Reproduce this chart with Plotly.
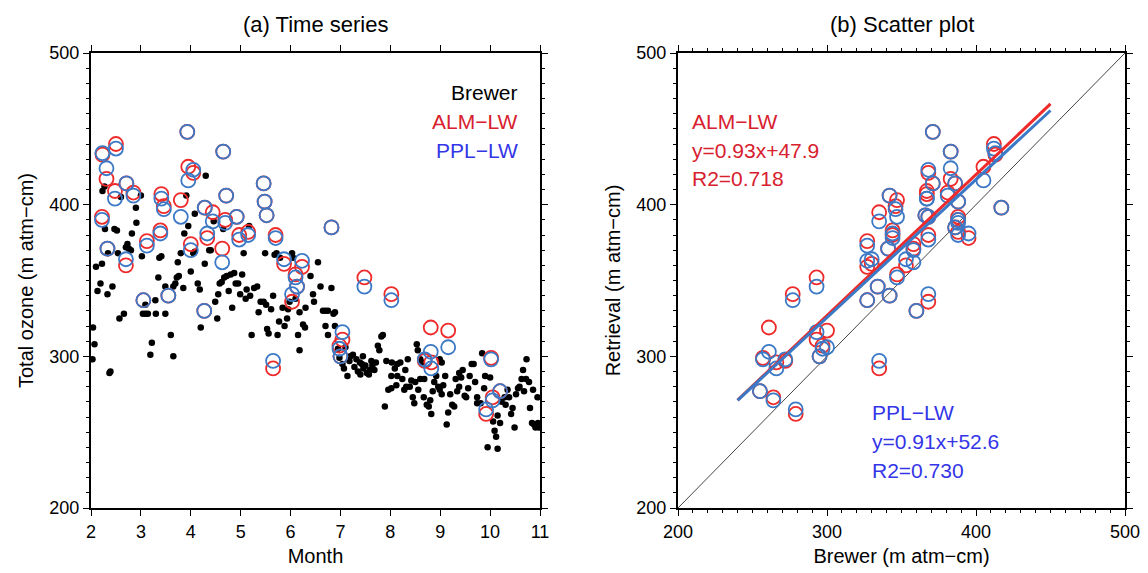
import plotly.graph_objects as go

# ---------------- data ----------------
# Brewer daily total ozone (left panel, black dots)
brewer_month = [
    2.04, 2.07, 2.03, 2.23, 2.27, 2.22, 2.19, 2.13, 2.33, 2.28, 2.34, 2.47, 2.43, 2.37, 2.39, 2.57, 2.66, 2.54, 2.60, 2.70,
    2.73, 2.76, 2.80, 2.82, 2.90, 2.91, 3.00, 3.02, 3.04, 3.09, 3.14, 3.09, 3.22, 3.19, 3.30, 3.29, 3.37, 3.41, 3.49, 3.49,
    3.60, 3.65, 3.65, 3.69, 3.72, 3.76, 3.74, 3.80, 3.85, 3.87, 3.91, 4.00, 4.05, 4.08, 4.08, 4.14, 4.18, 4.20, 4.28, 4.30,
    4.37, 4.40, 4.46, 4.49, 4.53, 4.58, 4.62, 4.67, 4.72, 4.65, 4.76, 4.83, 4.80, 4.87, 4.90, 4.95, 4.99, 5.03, 5.06, 5.12,
    5.19, 5.22, 5.17, 5.27, 5.33, 5.36, 5.40, 5.46, 5.49, 5.51, 5.53, 5.56, 5.61, 5.68, 5.72, 5.79, 5.74, 5.77, 5.84, 5.88,
    5.93, 5.95, 5.98, 6.03, 6.05, 6.15, 6.18, 6.25, 6.29, 6.18, 6.30, 6.40, 6.45, 6.47, 6.55, 6.65, 6.70, 6.75, 6.70, 6.75,
    6.82, 6.86, 6.89, 6.89, 6.95, 6.98, 7.04, 7.07, 7.14, 7.10, 7.18, 7.25, 7.32, 7.39, 7.43, 7.46, 7.53, 7.59, 7.64, 7.71,
    7.75, 7.78, 7.82, 7.85, 7.89, 7.96, 8.02, 7.92, 8.03, 8.09, 8.14, 8.20, 8.02, 8.14, 8.24, 8.28, 8.32, 8.39, 8.42, 8.35,
    8.45, 8.48, 8.56, 8.60, 8.53, 8.55, 8.60, 8.63, 8.67, 8.73, 8.77, 8.82, 8.85, 8.88, 8.96, 8.99, 9.03, 8.99, 9.03, 9.10,
    9.13, 9.20, 9.24, 9.28, 9.31, 9.38, 9.38, 9.45, 9.49, 9.52, 9.59, 9.63, 9.67, 9.74, 9.74, 9.81, 9.84, 9.88, 9.90, 9.95,
    10.06, 10.09, 10.12, 10.15, 10.15, 10.20, 10.23, 10.29, 10.31, 10.38, 10.45, 10.49, 10.56, 10.59, 10.63, 10.66, 10.72,
    10.73, 10.78, 10.80, 10.84, 10.88, 10.91, 10.95, 10.98, 10.96,
    7.20, 7.28, 7.35, 7.50, 7.57, 7.62, 7.68, 7.45, 7.40, 8.12, 8.30, 8.50, 8.68, 8.80, 8.92, 9.06, 9.16, 9.34, 9.42, 9.56,
    9.70, 10.00, 10.35, 10.42, 10.52, 10.68, 10.86, 2.10, 2.52, 3.35, 3.95, 4.55, 5.10, 5.65, 6.10, 6.60,
]
brewer_ozone = [
    319, 308, 298, 409, 412, 361, 348, 343, 341, 384, 368, 384, 346, 289, 290, 325, 328, 368, 405, 372,
    374, 371, 370, 381, 398, 388, 406, 366, 328, 328, 328, 334, 309, 301, 328, 337, 365, 366, 328, 346,
    314, 300, 346, 348, 352, 353, 362, 368, 345, 381, 406, 356, 368, 369, 394, 348, 344, 319, 361, 419,
    370, 370, 389, 336, 325, 348, 349, 352, 353, 384, 343, 332, 354, 355, 348, 348, 341, 354, 368, 344,
    340, 314, 386, 345, 346, 329, 336, 336, 368, 334, 318, 315, 331, 367, 368, 365, 314, 323, 332, 320,
    325, 331, 336, 368, 365, 314, 304, 321, 319, 329, 332, 353, 341, 336, 362, 330, 330, 330, 320, 314,
    345, 328, 329, 320, 305, 299, 295, 292, 287, 306, 297, 301, 298, 296, 295, 292, 289, 291, 294, 296,
    307, 304, 313, 314, 267, 278, 279, 297, 296, 292, 295, 296, 287, 287, 285, 278, 280, 280, 284, 298,
    273, 269, 278, 285, 308, 304, 298, 296, 273, 268, 267, 262, 277, 283, 280, 278, 275, 298, 296, 287,
    255, 275, 268, 267, 285, 289, 280, 291, 274, 273, 287, 295, 295, 273, 269, 269, 302, 279, 287, 240,
    257, 251, 247, 239, 261, 256, 270, 273, 268, 273, 266, 253, 279, 280, 285, 291, 285,
    298, 283, 266, 256, 255, 253, 273, 253, 256,
    300, 293, 290, 294, 288, 297, 291, 300, 288, 281, 291, 283, 285, 271, 287, 281, 263, 277, 286, 279,
    283, 286, 278, 262, 275, 277, 278, 359, 383, 352, 386, 341, 338, 340, 338, 346,
]

# Matched retrieval days: month, Brewer value, ALM-LW and PPL-LW retrievals
match_month = [
    2.23, 2.31, 2.50, 2.48, 2.22, 2.33, 2.71, 2.70, 2.85, 3.12, 3.05, 3.39, 3.41, 3.46, 3.55, 3.80, 3.93, 3.95, 4.05, 4.00,
    4.28, 4.44, 4.33, 4.27, 4.65, 4.63, 4.71, 4.69, 4.92, 4.97, 5.15, 5.46, 5.48, 5.52, 5.70, 5.87, 6.03, 6.10, 6.13, 6.23,
    5.65, 6.82, 7.04, 6.98, 7.00, 7.48, 8.02, 8.81, 8.69, 8.82, 9.16, 10.02, 9.92, 10.05, 10.20,
]
match_brewer = [
    413, 383, 412, 367, 388, 341, 371, 353, 381, 327, 327, 344, 367, 346, 342, 347, 371, 405, 368, 358,
    417, 335, 395, 360, 383, 358, 342, 388, 368, 368, 388, 386, 388, 366, 344, 330, 368, 347, 334, 327,
    335, 386, 293, 297, 295, 293, 277, 261, 272, 266, 300, 257, 279, 264, 255,
]
alm_lw = [
    433, 417, 440, 409, 392, 371, 414, 360, 408, 376, 337, 383, 407, 399, 340, 403, 448, 425, 421, 374,
    398, 395, 378, 330, 435, 371, 406, 390, 392, 380, 382, 414, 402, 393, 380, 361, 336, 354, 346, 359,
    292, 385, 311, 307, 300, 352, 341, 319, 297, 296, 317, 299, 262, 273, 277,
]
ppl_lw = [
    434, 424, 437, 404, 390, 371, 414, 364, 406, 373, 337, 381, 404, 397, 340, 392, 448, 416, 423, 370,
    398, 389, 381, 330, 435, 362, 406, 388, 392, 377, 380, 414, 402, 393, 378, 364, 341, 352, 346, 363,
    297, 385, 316, 305, 300, 346, 337, 303, 298, 292, 306, 298, 265, 271, 277,
]

# Linear fits shown in panel (b)
fit_x = [240, 450]
alm_slope, alm_icpt = 0.93, 47.9
ppl_slope, ppl_icpt = 0.91, 52.6
one_to_one = [200, 500]

RED = "#ee2a2a"
BLUE = "#3b79c6"
RED_TXT = "#d8202e"
BLUE_TXT = "#3535e8"
FONT = "Liberation Sans, Arial, sans-serif"

fig = go.Figure()

# ---- panel (a) ----
fig.add_trace(go.Scatter(x=brewer_month, y=brewer_ozone, mode="markers",
                         marker=dict(color="black", size=6.5), xaxis="x", yaxis="y",
                         showlegend=False))
fig.add_trace(go.Scatter(x=match_month, y=alm_lw, mode="markers",
                         marker=dict(symbol="circle-open", color=RED, size=14, line=dict(width=1.8)),
                         xaxis="x", yaxis="y", showlegend=False))
fig.add_trace(go.Scatter(x=match_month, y=ppl_lw, mode="markers",
                         marker=dict(symbol="circle-open", color=BLUE, size=14, line=dict(width=1.8)),
                         xaxis="x", yaxis="y", showlegend=False))

# ---- panel (b) ----
fig.add_trace(go.Scatter(x=one_to_one, y=one_to_one, mode="lines",
                         line=dict(color="#444444", width=1), xaxis="x2", yaxis="y2", showlegend=False))
fig.add_trace(go.Scatter(x=match_brewer, y=alm_lw, mode="markers",
                         marker=dict(symbol="circle-open", color=RED, size=14, line=dict(width=1.8)),
                         xaxis="x2", yaxis="y2", showlegend=False))
fig.add_trace(go.Scatter(x=match_brewer, y=ppl_lw, mode="markers",
                         marker=dict(symbol="circle-open", color=BLUE, size=14, line=dict(width=1.8)),
                         xaxis="x2", yaxis="y2", showlegend=False))
fig.add_trace(go.Scatter(x=fit_x, y=[alm_slope * v + alm_icpt for v in fit_x], mode="lines",
                         line=dict(color=RED, width=3), xaxis="x2", yaxis="y2", showlegend=False))
fig.add_trace(go.Scatter(x=fit_x, y=[ppl_slope * v + ppl_icpt for v in fit_x], mode="lines",
                         line=dict(color=BLUE, width=3), xaxis="x2", yaxis="y2", showlegend=False))

axis_common = dict(showline=True, linewidth=2.2, linecolor="black", mirror="ticks",
                   ticks="outside", ticklen=6, tickwidth=1.3, tickcolor="black",
                   showgrid=False, zeroline=False, automargin=False,
                   tickfont=dict(family=FONT, size=18, color="black"))
minor = dict(dtick=10, ticklen=3, tickwidth=1, tickcolor="black", ticks="outside", showgrid=False)

W, H = 1148, 573
ydom = [1 - 508 / H, 1 - 53 / H]
xdom1 = [91 / W, 540 / W]
xdom2 = [678 / W, 1125 / W]
fig.update_layout(
    width=W, height=H,
    margin=dict(l=0, r=0, t=0, b=0),
    paper_bgcolor="white", plot_bgcolor="white",
    font=dict(family=FONT, color="black"),
    xaxis=dict(domain=xdom1, range=[2, 11], tick0=2, dtick=1,
               title=dict(text="Month", font=dict(size=20), standoff=8), anchor="y", **axis_common),
    yaxis=dict(domain=ydom, range=[200, 500], tick0=200, dtick=100, minor=minor,
               title=dict(text="Total ozone (m atm−cm)", font=dict(size=20), standoff=10),
               anchor="x", **axis_common),
    xaxis2=dict(domain=xdom2, range=[200, 500], tick0=200, dtick=100, minor=minor,
                title=dict(text="Brewer (m atm−cm)", font=dict(size=20), standoff=8), anchor="y2",
                **axis_common),
    yaxis2=dict(domain=ydom, range=[200, 500], tick0=200, dtick=100, minor=minor,
                title=dict(text="Retrieval (m atm−cm)", font=dict(size=20), standoff=10),
                anchor="x2", **axis_common),
)

ann = []
ann.append(dict(text="(a) Time series", xref="paper", yref="paper", x=sum(xdom1) / 2, y=1 - 24 / H,
                showarrow=False, font=dict(size=22, color="black"), xanchor="center", yanchor="middle"))
ann.append(dict(text="(b) Scatter plot", xref="paper", yref="paper", x=sum(xdom2) / 2, y=1 - 24 / H,
                showarrow=False, font=dict(size=22, color="black"), xanchor="center", yanchor="middle"))
for txt, yv, col in [("Brewer", 474, "black"), ("ALM−LW", 455, RED_TXT), ("PPL−LW", 436, BLUE_TXT)]:
    ann.append(dict(text=txt, xref="x", yref="y", x=10.6, y=yv, showarrow=False,
                    xanchor="right", yanchor="middle", font=dict(size=21, color=col)))
for txt, yv in [("ALM−LW", 455), ("y=0.93x+47.9", 436), ("R2=0.718", 417)]:
    ann.append(dict(text=txt, xref="x2", yref="y2", x=208, y=yv, showarrow=False,
                    xanchor="left", yanchor="middle", font=dict(size=21, color=RED_TXT)))
for txt, yv in [("PPL−LW", 263), ("y=0.91x+52.6", 244), ("R2=0.730", 225)]:
    ann.append(dict(text=txt, xref="x2", yref="y2", x=329, y=yv, showarrow=False,
                    xanchor="left", yanchor="middle", font=dict(size=21, color=BLUE_TXT)))
fig.update_layout(annotations=ann)

fig.write_html("out.html")
